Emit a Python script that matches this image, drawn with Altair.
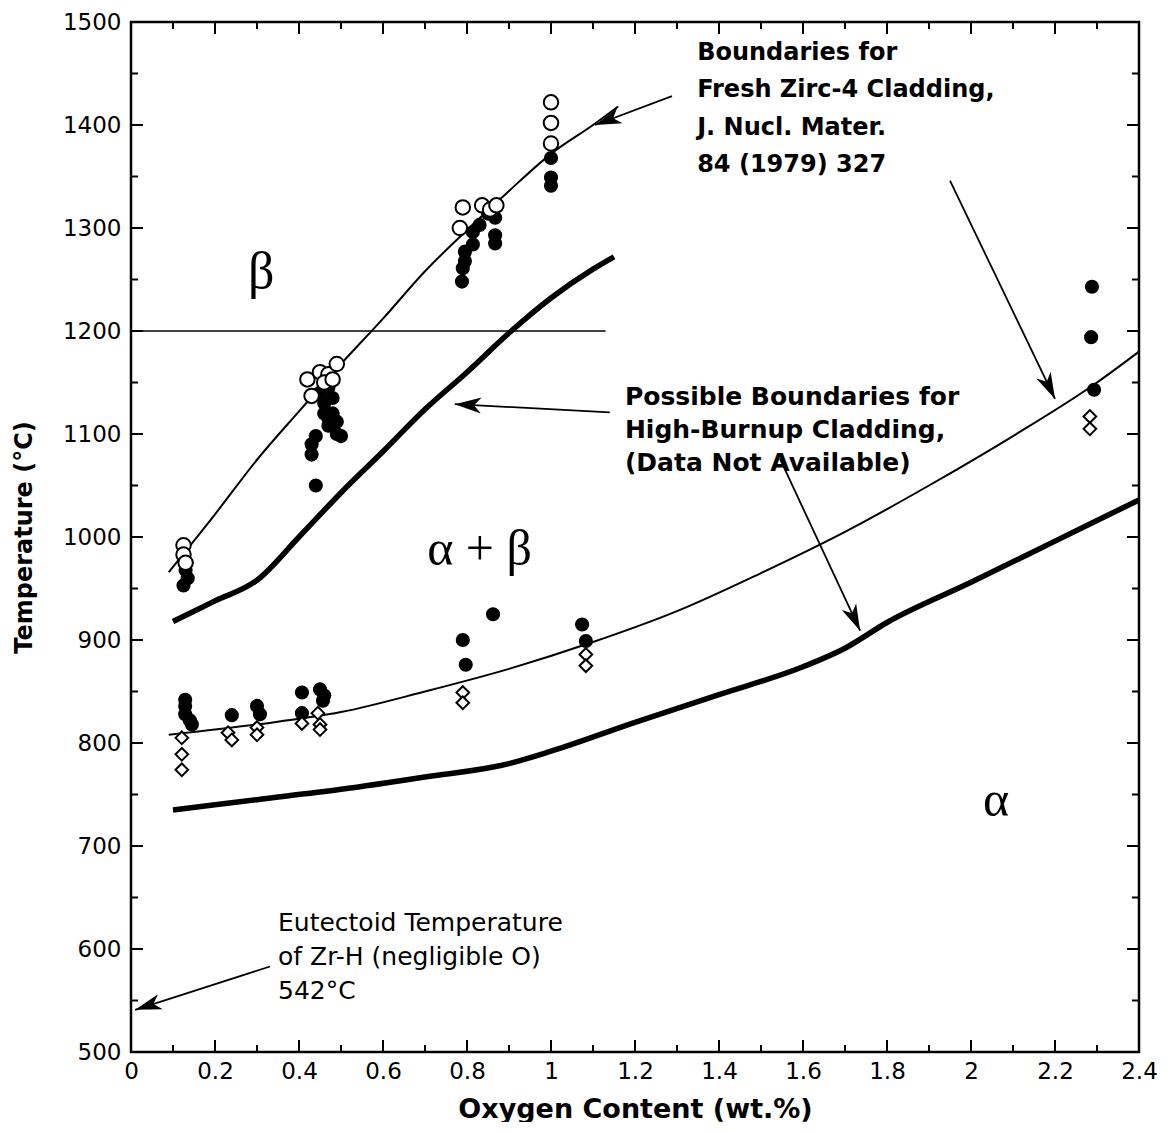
import math
import altair as alt
import pandas as pd

# ---------------- data ----------------
# Boundaries for fresh Zirc-4 cladding (thin lines)
fresh_beta_x = [0.09, 0.2, 0.3, 0.4, 0.5, 0.6, 0.7, 0.8, 0.9, 1.0, 1.1, 1.16]
fresh_beta_y = [966, 1022, 1075, 1122, 1168, 1212, 1258, 1298, 1336, 1372, 1400, 1418]
fresh_alpha_x = [0.09, 0.3, 0.5, 0.7, 0.9, 1.1, 1.3, 1.5, 1.7, 1.9, 2.1, 2.3, 2.4]
fresh_alpha_y = [808, 818, 830, 850, 872, 898, 928, 965, 1005, 1050, 1098, 1150, 1180]

# Possible boundaries for high-burnup cladding (thick lines)
hb_beta_x = [0.1, 0.2, 0.3, 0.4, 0.5, 0.6, 0.7, 0.8, 0.9, 1.0, 1.1, 1.15]
hb_beta_y = [918, 938, 958, 1000, 1043, 1083, 1124, 1160, 1198, 1232, 1260, 1272]
hb_alpha_x = [0.1, 0.3, 0.5, 0.7, 0.9, 1.0, 1.2, 1.4, 1.6, 1.7, 1.8, 2.0, 2.2, 2.4]
hb_alpha_y = [735, 745, 755, 767, 780, 792, 820, 847, 874, 892, 917, 956, 996, 1036]

# 1200 C reference line
ref_x = [0.0, 1.13]
ref_y = [1200, 1200]

# Open circles
open_x = [0.125, 0.125, 0.13, 0.42, 0.45, 0.47, 0.49, 0.43, 0.46, 0.48,
          0.79, 0.783, 0.836, 0.855, 0.87, 1.0, 1.0, 1.0]
open_y = [992, 983, 975, 1153, 1160, 1158, 1168, 1137, 1150, 1153,
          1320, 1300, 1322, 1318, 1322, 1422, 1402, 1382]

# Filled circles
filled_x = [0.13, 0.135, 0.125,
            0.45, 0.46, 0.46, 0.47, 0.47, 0.48, 0.49, 0.49, 0.44, 0.43, 0.43, 0.44, 0.47, 0.48, 0.50,
            0.795, 0.79, 0.795, 0.788, 0.814, 0.814, 0.83, 0.85, 0.867, 0.867, 0.867,
            1.0, 1.0, 1.0,
            0.129, 0.129, 0.129, 0.14, 0.145, 0.24, 0.3, 0.307, 0.407, 0.407, 0.45, 0.457, 0.46,
            0.79, 0.797, 0.862, 1.074, 1.083, 2.288, 2.286, 2.293]
filled_y = [968, 960, 953,
            1140, 1130, 1120, 1115, 1108, 1120, 1112, 1100, 1098, 1090, 1080, 1050, 1145, 1135, 1098,
            1277, 1261, 1268, 1248, 1296, 1284, 1303, 1314, 1310, 1293, 1285,
            1368, 1349, 1341,
            842, 836, 828, 822, 818, 827, 836, 828, 849, 829, 852, 841, 846,
            900, 876, 925, 915, 899, 1243, 1194, 1143]

# Open diamonds
dia_x = [0.121, 0.121, 0.121, 0.231, 0.24, 0.3, 0.3, 0.407, 0.445, 0.45, 0.45,
         0.79, 0.79, 1.083, 1.083, 2.283, 2.283]
dia_y = [805, 789, 774, 810, 803, 815, 808, 819, 829, 818, 813,
         849, 839, 886, 875, 1117, 1105]

# Axis ticks
x_major = [0, 0.2, 0.4, 0.6, 0.8, 1.0, 1.2, 1.4, 1.6, 1.8, 2.0, 2.2, 2.4]
x_minor = [0.1, 0.3, 0.5, 0.7, 0.9, 1.1, 1.3, 1.5, 1.7, 1.9, 2.1, 2.3]
y_major = [500, 600, 700, 800, 900, 1000, 1100, 1200, 1300, 1400, 1500]
y_minor = [550, 650, 750, 850, 950, 1050, 1150, 1250, 1350, 1450]

# Arrows (start x, start y, end x, end y)
arrow_x1 = [1.288, 1.95, 1.14, 1.545, 0.331]
arrow_y1 = [1428, 1346, 1121, 1076, 583]
arrow_x2 = [1.105, 2.2, 0.771, 1.736, 0.01]
arrow_y2 = [1400, 1134, 1129, 909, 541]

# ---------------- chart ----------------
W, H = 1008, 1030
XDOM, YDOM = [0, 2.4], [500, 1500]
xs = alt.Scale(domain=XDOM, nice=False, zero=False)
ys = alt.Scale(domain=YDOM, nice=False, zero=False)
SANS = "DejaVu Sans"
SERIF = "Liberation Serif"


def X(field):
    return alt.X(field, scale=xs)


def Y(field):
    return alt.Y(field, scale=ys)


def line_layer(xv, yv, width):
    df = pd.DataFrame({"x": xv, "y": yv})
    return alt.Chart(df).mark_line(color="black", strokeWidth=width, interpolate="monotone").encode(
        x=X("x:Q"), y=Y("y:Q"))


# axis-carrying layer
axis_layer = alt.Chart(pd.DataFrame({"x": [0.0, 2.4], "y": [500, 1500]})).mark_point(opacity=0).encode(
    x=alt.X("x:Q", scale=xs,
            axis=alt.Axis(values=x_major, format="~g", title="Oxygen Content (wt.%)",
                          titleFontSize=27, titlePadding=13)),
    y=alt.Y("y:Q", scale=ys,
            axis=alt.Axis(values=y_major, format="d", title="Temperature (°C)",
                          titleFontSize=24, titlePadding=26, labelPadding=10)),
)

layers = [axis_layer,
          line_layer(fresh_beta_x, fresh_beta_y, 2),
          line_layer(fresh_alpha_x, fresh_alpha_y, 2),
          line_layer(hb_beta_x, hb_beta_y, 5.5),
          line_layer(hb_alpha_x, hb_alpha_y, 5.5),
          alt.Chart(pd.DataFrame({"x": ref_x, "y": ref_y})).mark_line(color="black", strokeWidth=1.5).encode(
              x=X("x:Q"), y=Y("y:Q"))]


# ticks drawn inside the frame
def xticks(vals, length):
    df = pd.DataFrame({"x": vals})
    b = alt.Chart(df).mark_rule(color="black", strokeWidth=2)
    return [b.encode(x=X("x:Q"), y=alt.value(H), y2=alt.value(H - length)),
            b.encode(x=X("x:Q"), y=alt.value(0), y2=alt.value(length))]


def yticks(vals, length):
    df = pd.DataFrame({"y": vals})
    b = alt.Chart(df).mark_rule(color="black", strokeWidth=2)
    return [b.encode(y=Y("y:Q"), x=alt.value(0), x2=alt.value(length)),
            b.encode(y=Y("y:Q"), x=alt.value(W), x2=alt.value(W - length))]


layers += xticks(x_major, 12) + xticks(x_minor, 7) + yticks(y_major, 12) + yticks(y_minor, 7)

# markers
layers.append(alt.Chart(pd.DataFrame({"x": filled_x, "y": filled_y})).mark_point(
    shape="circle", filled=True, color="black", size=200, opacity=1).encode(x=X("x:Q"), y=Y("y:Q")))
layers.append(alt.Chart(pd.DataFrame({"x": open_x, "y": open_y})).mark_point(
    shape="circle", filled=True, fill="white", stroke="black", strokeWidth=2, size=210, opacity=1).encode(
    x=X("x:Q"), y=Y("y:Q")))
layers.append(alt.Chart(pd.DataFrame({"x": dia_x, "y": dia_y})).mark_point(
    shape="diamond", filled=True, fill="white", stroke="black", strokeWidth=2, size=160, opacity=1).encode(
    x=X("x:Q"), y=Y("y:Q")))

# arrows
sx = W / (XDOM[1] - XDOM[0])
sy = H / (YDOM[1] - YDOM[0])
angles = []
for x1, y1, x2, y2 in zip(arrow_x1, arrow_y1, arrow_x2, arrow_y2):
    dxp = (x2 - x1) * sx
    dyp = -(y2 - y1) * sy
    angles.append(math.degrees(math.atan2(dxp, -dyp)) % 360)
arr = pd.DataFrame({"x": arrow_x1, "y": arrow_y1, "x2": arrow_x2, "y2": arrow_y2, "ang": angles})
layers.append(alt.Chart(arr).mark_rule(color="black", strokeWidth=1.8).encode(
    x=X("x:Q"), y=Y("y:Q"), x2="x2:Q", y2="y2:Q"))
layers.append(alt.Chart(arr).mark_point(
    shape="M0,0 L-0.6,2 L0,1.45 L0.6,2 Z", filled=True, color="black", size=700, opacity=1).encode(
    x=X("x2:Q"), y=Y("y2:Q"), angle=alt.Angle("ang:Q", scale=None)))

# text annotations (positioned through the data scales)
notes = [
    (["Boundaries for", "Fresh Zirc-4 Cladding,", "J. Nucl. Mater.", "84 (1979) 327"],
     1.348, 1482, 24, "bold", SANS, 37.5, "left"),
    (["Possible Boundaries for", "High-Burnup Cladding,", "(Data Not Available)"],
     1.176, 1148, 25, "bold", SANS, 33, "left"),
    (["Eutectoid Temperature", "of Zr-H (negligible O)", "542°C"],
     0.35, 637, 25, "normal", SANS, 34, "left"),
    (["β"], 0.31, 1282, 52, "normal", SERIF, 52, "center"),
    (["α + β"], 0.83, 1012, 50, "normal", SERIF, 50, "center"),
    (["α"], 2.06, 768, 50, "normal", SERIF, 50, "center"),
]
for lines, nx, ny, size, weight, font, lh, align in notes:
    df = pd.DataFrame({"x": [nx], "y": [ny]})
    layers.append(alt.Chart(df).mark_text(
        text=lines, align=align, baseline="top", fontSize=size, fontWeight=weight,
        font=font, color="black", lineHeight=lh).encode(x=X("x:Q"), y=Y("y:Q")))

chart = alt.layer(*layers).properties(
    width=W, height=H, padding={"left": 4, "top": 3, "right": 5, "bottom": 0},
    background="white",
).configure_view(stroke="black", strokeWidth=2.5).configure_axis(
    labelFont=SANS, labelFontSize=23, labelColor="black", titleFont=SANS,
    titleFontWeight="bold", titleColor="black", ticks=False, domain=False, grid=False,
    labelFlush=False, labelPadding=8, labelOverlap=False,
)

chart.save("out.html", embed_options={"renderer": "svg", "actions": False})
